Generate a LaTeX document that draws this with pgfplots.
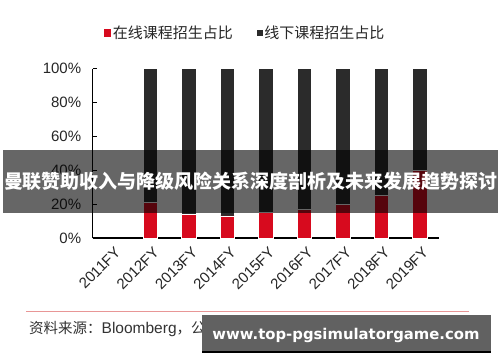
\documentclass[border=0pt]{standalone}
\usepackage{pgfplots}
\pgfplotsset{compat=1.18}
\usepackage{graphicx}
\usepackage{fontspec}
\setmainfont{Liberation Sans}
\newfontfamily\cjk{Noto Sans CJK SC}
\newfontfamily\wm{DejaVu Sans}
\definecolor{cred}{RGB}{215,10,30}
\definecolor{cdark}{RGB}{43,43,43}
\definecolor{cpink}{RGB}{232,150,150}
\begin{document}
\begin{tikzpicture}[x=1pt,y=1pt]
\useasboundingbox (0,0) rectangle (500,362);
\fill[white] (0,0) rectangle (500,362);
\begin{axis}[
  at={(92.7pt,124pt)}, anchor=south west,
  scale only axis, width=346.3pt, height=169.4pt,
  ymin=0, ymax=100, xmin=-0.5, xmax=8.5,
  ybar stacked, bar width=14.5pt,
  axis x line*=bottom, axis y line*=left,
  axis line style={line width=1.1pt, black},
  xtick={0,...,8},
  xticklabels={2011FY,2012FY,2013FY,2014FY,2015FY,2016FY,2017FY,2018FY,2019FY},
  x tick label style={rotate=45, anchor=north east, inner sep=1pt, yshift=-6pt, xshift=-3pt},
  xtick style={draw=none},
  ytick={0,20,40,60,80,100},
  yticklabels={0\%,20\%,40\%,60\%,80\%,100\%},
  ytick align=inside, major tick length=4pt,
  ytick style={line width=1pt, black},
  y tick label style={xshift=-8pt},
  tick label style={font=\fontsize{15}{18}\selectfont, text=black!85},
  legend style={at={(0.44,1.213)}, anchor=center, draw=none, fill=none,
    font=\cjk\fontsize{15}{18}\selectfont, text=black!85,
    /tikz/every even column/.append style={column sep=22pt}},
  legend columns=2, legend cell align=left,
  legend image code/.code={\fill[#1] (0pt,-3pt) rectangle (6pt,3pt);},
]
\addplot[fill=cred, draw=white, line width=0.5pt,
  legend image code/.code={\fill[cred] (0pt,-3.5pt) rectangle (6.5pt,3pt);}]
  coordinates {(1,21) (2,14) (3,13) (4,15) (5,17) (6,20) (7,25) (8,40)};
\addplot[fill=cdark, draw=white, line width=0.5pt,
  legend image code/.code={\fill[cdark] (0pt,-3pt) rectangle (5pt,2pt);}]
  coordinates {(1,79) (2,86) (3,87) (4,85) (5,83) (6,80) (7,75) (8,60)};
\legend{在线课程招生占比,线下课程招生占比}
\end{axis}
\draw[cpink, line width=1pt] (26,51) -- (469,51);
\node[anchor=west, text=black!80, inner sep=0pt] at (29,33)
  {\cjk\fontsize{14.5}{17}\selectfont 资料来源：{\rmfamily\fontsize{15.5}{17}\selectfont Bloomberg}，公司公告，中信证券研究部};
\fill[black, opacity=0.6] (3,149.3) rectangle (498,212);
\node[text=white, inner sep=0pt] at (250.5,180.5)
  {\resizebox{493pt}{!}{\cjk\bfseries\fontsize{19}{22}\selectfont 曼联赞助收入与降级风险关系深度剖析及未来发展趋势探讨}};
\fill[black!62] (202,9) rectangle (491,47);
\fill[black] (202,9) rectangle (491,11.5);
\node[text=white, inner sep=0pt] at (346,27)
  {\resizebox{267pt}{!}{\wm\bfseries\fontsize{16}{19}\selectfont www.top-pgsimulatorgame.com}};
\end{tikzpicture}
\end{document}
